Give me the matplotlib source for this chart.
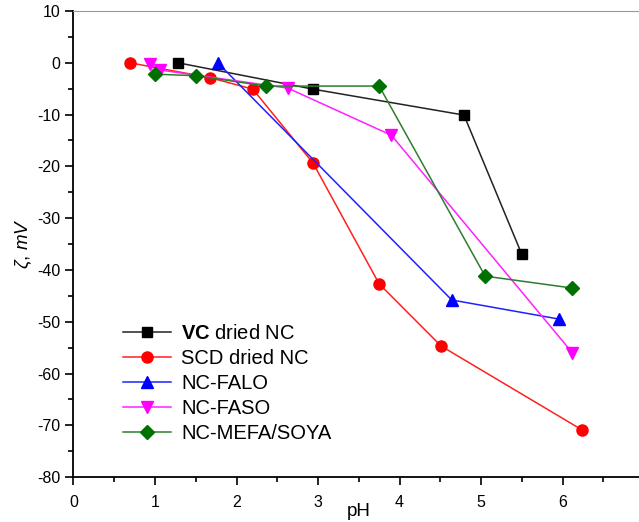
import matplotlib.pyplot as plt
from matplotlib.ticker import MultipleLocator

plt.rcParams['font.family'] = ['Liberation Sans', 'DejaVu Sans']
plt.rcParams['mathtext.fontset'] = 'custom'
plt.rcParams['mathtext.bf'] = 'Liberation Sans:bold'
plt.rcParams['mathtext.it'] = 'Liberation Sans:italic'
plt.rcParams['mathtext.rm'] = 'Liberation Sans'
plt.rcParams['axes.unicode_minus'] = False

# zeta potential vs pH
vc_ph = [1.28, 2.94, 4.79, 5.50]
vc_zeta = [0.0, -5.1, -10.1, -37.0]

scd_ph = [0.69, 1.68, 2.20, 2.94, 3.75, 4.51, 6.24]
scd_zeta = [0.0, -2.9, -5.1, -19.4, -42.7, -54.7, -70.9]

falo_ph = [1.77, 4.64, 5.96]
falo_zeta = [0.0, -45.8, -49.5]

faso_ph = [0.94, 1.06, 2.63, 3.90, 6.12]
faso_zeta = [-0.3, -1.4, -4.9, -14.0, -56.0]

mefa_ph = [1.00, 1.50, 2.36, 3.75, 5.05, 6.12]
mefa_zeta = [-2.2, -2.5, -4.5, -4.5, -41.2, -43.5]

fig = plt.figure(figsize=(6.39, 5.22), dpi=100)
ax = fig.add_axes([0.115, 0.086, 0.893, 0.893])

ax.plot(vc_ph, vc_zeta, color='#222222', lw=1.1, marker='s', ms=7, mfc='black', mec='black',
        label=r'$\bf{VC}$ dried NC')
ax.plot(scd_ph, scd_zeta, color='#FF2020', lw=1.1, marker='o', ms=8, mfc='red', mec='red',
        label='SCD dried NC')
ax.plot(falo_ph, falo_zeta, color='#2020FF', lw=1.1, marker='^', ms=9, mfc='blue', mec='blue',
        label='NC-FALO')
ax.plot(faso_ph, faso_zeta, color='#FF20FF', lw=1.1, marker='v', ms=9, mfc='magenta', mec='magenta',
        label='NC-FASO')
ax.plot(mefa_ph, mefa_zeta, color='#2E7D2E', lw=1.1, marker='D', ms=7.5, mfc='#007000', mec='#007000',
        label='NC-MEFA/SOYA')

ax.set_xlim(0, 7)
ax.set_ylim(-80, 10)
ax.xaxis.set_major_locator(MultipleLocator(1))
ax.xaxis.set_minor_locator(MultipleLocator(0.5))
ax.yaxis.set_major_locator(MultipleLocator(10))
ax.yaxis.set_minor_locator(MultipleLocator(5))

ax.spines['right'].set_visible(False)
ax.spines['top'].set_color('#999999')
ax.spines['left'].set_linewidth(1.3)
ax.spines['bottom'].set_linewidth(1.3)
ax.tick_params(which='major', direction='out', length=6, width=1.2, labelsize=11.5)
ax.tick_params(axis='x', which='major', pad=7)
ax.tick_params(which='minor', direction='out', length=3.5, width=1.2)

ax.set_xlabel('pH', fontsize=13.5, labelpad=-5)
ax.set_ylabel(r'$\mathit{\zeta}$, $\mathit{mV}$', fontsize=13.5, labelpad=2)

ax.legend(loc='lower left', bbox_to_anchor=(0.055, 0.034), frameon=False, fontsize=14.5,
          handlelength=2.4, handletextpad=0.5, labelspacing=0.3)

fig.savefig('out.png', dpi=100)
